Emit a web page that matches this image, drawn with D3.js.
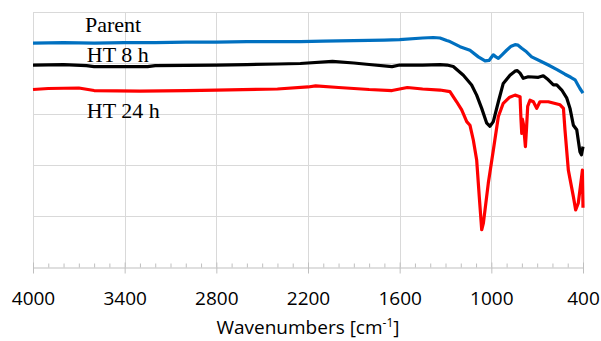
<!DOCTYPE html>
<html>
<head>
<meta charset="utf-8">
<script src="https://cdn.jsdelivr.net/npm/d3@7"></script>
<style>
  body { margin: 0; background: #fff; }
  svg { display: block; }
</style>
</head>
<body>
<div id="chart"></div>
<script>
// [wavenumber, transmittance (offset, arbitrary units)]
const parent = [
  [4000, 4.39], [3800, 4.40], [3600, 4.39], [3400, 4.40], [3200, 4.40], [3000, 4.41],
  [2800, 4.41], [2600, 4.42], [2400, 4.42], [2250, 4.42], [2100, 4.43], [1900, 4.44],
  [1700, 4.45], [1600, 4.46], [1450, 4.49], [1380, 4.50], [1336, 4.49], [1292, 4.44],
  [1271, 4.42], [1205, 4.32], [1140, 4.25], [1085, 4.12], [1041, 4.04], [1015, 4.05],
  [987, 4.16], [970, 4.12], [954, 4.09], [930, 4.16], [900, 4.25], [870, 4.33],
  [845, 4.36], [825, 4.35], [801, 4.29], [770, 4.22], [736, 4.12], [680, 4.04],
  [627, 3.96], [570, 3.87], [518, 3.78], [480, 3.72], [452, 3.67], [435, 3.58],
  [420, 3.50], [400, 3.41]
];

const ht8 = [
  [4000, 3.96], [3800, 3.97], [3650, 3.95], [3600, 3.93], [3400, 3.93], [3250, 3.93],
  [3200, 3.95], [2800, 3.96], [2600, 3.97], [2400, 3.98], [2250, 3.99], [2040, 4.03],
  [1900, 4.00], [1800, 3.97], [1650, 3.93], [1600, 3.96], [1450, 3.96], [1336, 3.97],
  [1290, 3.96], [1249, 3.93], [1183, 3.76], [1129, 3.57], [1096, 3.37], [1063, 3.11],
  [1030, 2.82], [1009, 2.76], [987, 2.85], [954, 3.24], [922, 3.60], [878, 3.76],
  [845, 3.84], [830, 3.85], [812, 3.80], [791, 3.70], [758, 3.73], [692, 3.72],
  [660, 3.75], [627, 3.67], [594, 3.57], [572, 3.57], [539, 3.47], [506, 3.31],
  [485, 3.11], [463, 2.78], [441, 2.69], [420, 2.26], [410, 2.20], [400, 2.36]
];

const ht24 = [
  [4000, 3.48], [3900, 3.50], [3700, 3.51], [3600, 3.46], [3300, 3.45], [3000, 3.46],
  [2800, 3.47], [2400, 3.49], [2200, 3.53], [2150, 3.55], [2000, 3.52], [1800, 3.48],
  [1650, 3.46], [1550, 3.52], [1450, 3.49], [1336, 3.47], [1271, 3.44], [1227, 3.24],
  [1194, 3.08], [1161, 2.85], [1140, 2.78], [1118, 2.49], [1096, 2.10], [1079, 1.38],
  [1063, 0.73], [1052, 0.86], [1020, 1.64], [987, 2.29], [954, 2.95], [922, 3.21],
  [880, 3.33], [845, 3.37], [812, 3.34], [806, 2.90], [801, 2.62], [797, 2.90],
  [790, 2.80], [784, 2.60], [777, 2.36], [770, 2.70], [762, 3.15], [747, 3.27],
  [725, 3.24], [703, 3.11], [682, 3.24], [627, 3.24], [550, 3.18], [528, 3.11],
  [518, 2.69], [496, 1.90], [463, 1.38], [448, 1.12], [431, 1.25], [409, 1.77],
  [404, 1.90], [400, 1.16]
];

const seriesNames = ["Parent", "HT 8 h", "HT 24 h"];
const seriesColors = ["#0070C0", "#000000", "#FF0000"];
// label anchor in data coords [wavenumber, value]
const labelPos = [[3660, 4.61], [3648, 4.02], [3648, 2.92]];

const majorTicks = [4000, 3400, 2800, 2200, 1600, 1000, 400];
const minorTicks = d3.range(400, 4001, 100).filter(v => !majorTicks.includes(v));
const gridValues = [1, 2, 3, 4, 5];

const width = 601, height = 341;
const margin = { top: 12, right: 18, bottom: 74, left: 33 };

const x = d3.scaleLinear()
  .domain([4000, 400])
  .range([margin.left, width - margin.right]);

const y = d3.scaleLinear()
  .domain([0, 5])
  .range([height - margin.bottom, margin.top]);

const svg = d3.select("#chart")
  .append("svg")
  .attr("width", width)
  .attr("height", height);

// grid
svg.append("g")
  .attr("stroke", "#d9d9d9")
  .attr("stroke-width", 1)
  .call(g => g.selectAll(".h")
    .data(gridValues)
    .join("line")
      .attr("x1", x(4000)).attr("x2", x(400))
      .attr("y1", d => Math.round(y(d)) + 0.5).attr("y2", d => Math.round(y(d)) + 0.5))
  .call(g => g.selectAll(".v")
    .data(majorTicks)
    .join("line")
      .attr("class", "v")
      .attr("x1", d => Math.round(x(d)) + 0.5).attr("x2", d => Math.round(x(d)) + 0.5)
      .attr("y1", y(5)).attr("y2", y(0)));

// x axis
const axisY = Math.round(y(0)) + 0.5;
const xAxis = svg.append("g")
  .attr("transform", `translate(0,${axisY})`)
  .call(d3.axisBottom(x).tickValues(majorTicks).tickFormat(d3.format("d")).tickSize(6).tickSizeOuter(0));

xAxis.select(".domain").attr("stroke", "#bfbfbf");
xAxis.selectAll(".tick line").attr("stroke", "#bfbfbf").attr("y1", -5);
xAxis.selectAll(".tick text")
  .attr("y", 37)
  .attr("dy", 0)
  .attr("fill", "#000")
  .style("font-family", "'Open Sans', sans-serif")
  .style("font-size", "19px");

svg.append("g")
  .attr("transform", `translate(0,${axisY})`)
  .call(d3.axisBottom(x).tickValues(minorTicks).tickSize(-4).tickFormat(""))
  .call(g => g.select(".domain").remove())
  .call(g => g.selectAll(".tick line").attr("stroke", "#bfbfbf"));

// axis title
const title = svg.append("text")
  .attr("x", 308)
  .attr("y", 334)
  .attr("text-anchor", "middle")
  .style("font-family", "'Open Sans', sans-serif")
  .style("font-size", "19px")
  .attr("fill", "#000");
title.append("tspan").text("Wavenumbers [cm");
title.append("tspan").attr("dy", -7).style("font-size", "12px").text("-1");
title.append("tspan").attr("dy", 7).text("]");

// spectra
const line = d3.line()
  .x(d => x(d[0]))
  .y(d => y(d[1]));

svg.append("g")
  .attr("fill", "none")
  .attr("stroke-width", 3.2)
  .attr("stroke-linejoin", "round")
  .selectAll("path")
  .data([parent, ht8, ht24])
  .join("path")
    .attr("stroke", (d, i) => seriesColors[i])
    .attr("d", line);

// labels
svg.append("g")
  .style("font-family", "'Liberation Serif', 'Times New Roman', serif")
  .style("font-size", "22px")
  .attr("fill", "#000")
  .selectAll("text")
  .data(seriesNames)
  .join("text")
    .attr("x", (d, i) => x(labelPos[i][0]))
    .attr("y", (d, i) => y(labelPos[i][1]))
    .text(d => d);
</script>
</body>
</html>
